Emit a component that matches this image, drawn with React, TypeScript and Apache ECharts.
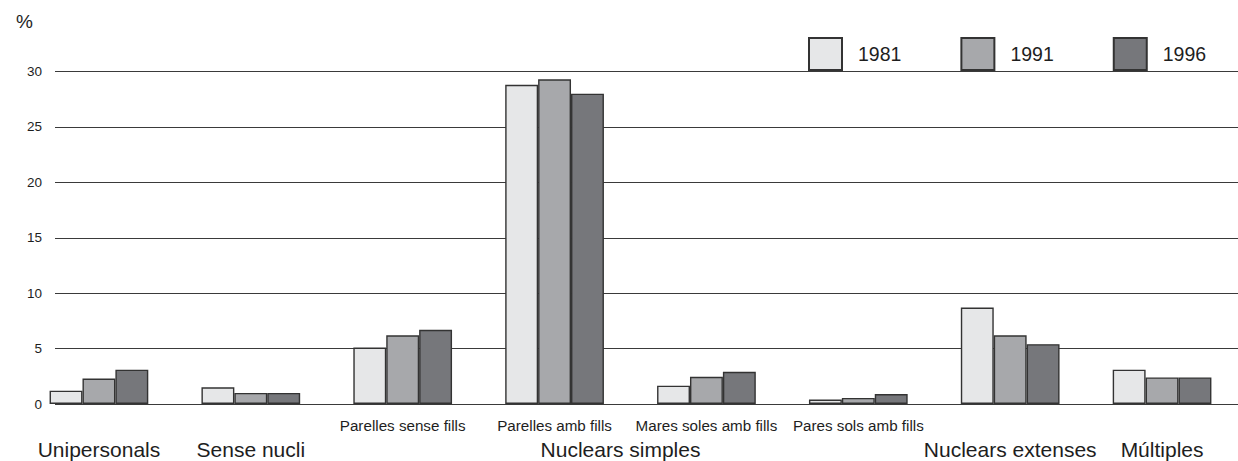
import React, { useEffect, useRef } from "react";
import * as echarts from "echarts";

const categories = [
  "Unipersonals",
  "Sense nucli",
  "Parelles sense fills",
  "Parelles amb fills",
  "Mares soles amb fills",
  "Pares sols amb fills",
  "Nuclears extenses",
  "Múltiples",
];
const subGroupName = "Nuclears simples";
const subGroupMembers = [
  "Parelles sense fills",
  "Parelles amb fills",
  "Mares soles amb fills",
  "Pares sols amb fills",
];
const seriesNames = ["1981", "1991", "1996"];
const v1981 = [1.2, 1.5, 5.1, 28.8, 1.65, 0.4, 8.7, 3.1];
const v1991 = [2.3, 1.0, 6.2, 29.3, 2.45, 0.55, 6.2, 2.4];
const v1996 = [3.1, 1.0, 6.7, 28.0, 2.9, 0.9, 5.4, 2.4];
const yMin = 0;
const yMax = 30;
const yInterval = 5;

const colors = ["#e6e7e8", "#a7a8ab", "#76777b"];
const FONT = "'Liberation Sans', Arial, Helvetica, sans-serif";
const TXT = "#1e1e1e";

export default function App() {
  const ref = useRef<HTMLDivElement>(null);
  useEffect(() => {
    if (!ref.current) return;
    const chart = echarts.init(ref.current, null, { renderer: "svg" });
    const values = [v1981, v1991, v1996];
    const top = 71.5;
    const bottom = 57;
    chart.setOption({
      animation: false,
      textStyle: { fontFamily: FONT, color: TXT },
      legend: {
        left: 803,
        top: 32,
        itemWidth: 33,
        itemHeight: 32,
        itemGap: 59,
        icon: "rect",
        data: seriesNames,
        textStyle: { fontSize: 19.5, color: TXT, fontFamily: FONT, padding: [0, 0, 0, 11] },
      },
      grid: [
        { left: 55, right: 0, top, bottom },
        { left: 23, right: 0, top, bottom },
      ],
      xAxis: [
        { gridIndex: 0, type: "value", min: 0, max: 1, show: false },
        {
          gridIndex: 1,
          type: "category",
          data: categories,
          axisLine: { show: false },
          axisTick: { show: false },
          axisLabel: {
            interval: 0,
            margin: 8,
            formatter: (v: string) =>
              subGroupMembers.includes(v) ? `{s|${v}}\n{b| }` : `{s| }\n{b|${v}}`,
            rich: {
              s: { fontSize: 15.2, lineHeight: 26, color: TXT, fontFamily: FONT },
              b: { fontSize: 21, lineHeight: 23, color: TXT, fontFamily: FONT },
            },
          },
        },
      ],
      yAxis: [
        {
          gridIndex: 0,
          type: "value",
          min: yMin,
          max: yMax,
          interval: yInterval,
          name: "%",
          nameLocation: "end",
          nameGap: 50,
          nameTextStyle: {
            fontSize: 19,
            color: TXT,
            align: "right",
            verticalAlign: "middle",
            padding: [0, 22, 0, 0],
          },
          axisLine: { show: false },
          axisTick: { show: false },
          axisLabel: { fontSize: 13.5, color: TXT, margin: 13, padding: [3, 0, 0, 0] },
          splitLine: { lineStyle: { color: "#3a3a3a", width: 1.2 } },
        },
        { gridIndex: 1, type: "value", min: yMin, max: yMax, interval: yInterval, show: false },
      ],
      series: seriesNames.map((name, i) => ({
        name,
        type: "bar",
        xAxisIndex: 1,
        yAxisIndex: 1,
        data: values[i],
        barGap: "0%",
        barCategoryGap: "35%",
        itemStyle: { color: colors[i], borderColor: "#333", borderWidth: 1.4 },
      })),
    });
    const a = chart.convertToPixel({ xAxisIndex: 1 }, subGroupMembers[1]) as number;
    const b = chart.convertToPixel({ xAxisIndex: 1 }, subGroupMembers[2]) as number;
    chart.setOption({
      graphic: [
        {
          type: "text",
          x: (a + b) / 2 - 10,
          y: 449.5,
          style: {
            text: subGroupName,
            fontSize: 21,
            fontFamily: FONT,
            fill: TXT,
            textAlign: "center",
            textVerticalAlign: "middle",
          },
        },
      ],
    });
    return () => chart.dispose();
  }, []);
  return (
    <div
      ref={ref}
      style={{ position: "absolute", left: 0, top: 0, width: 1238, height: 461 }}
    />
  );
}
